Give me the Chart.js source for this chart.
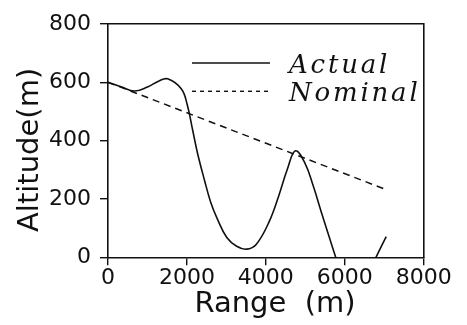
<!DOCTYPE html>
<html>
<head>
<meta charset="utf-8">
<title>Altitude vs Range</title>
<script src="https://cdn.jsdelivr.net/npm/chart.js@4.4.1/dist/chart.umd.min.js"></script>
<style>
  html, body { margin: 0; padding: 0; background: #fff; }
  #wrap { width: 467px; height: 325px; }
</style>
</head>
<body>
<div id="wrap"><canvas id="altitudeChart"></canvas></div>
<script>
// flown path vs. planned path, both in metres
const actualRange = [0, 330, 670, 1000, 1280, 1510, 1860, 2010, 2150, 2270, 2440, 2600, 2770, 3010, 3260, 3510, 3760, 4090, 4330, 4540, 4750, 4990, 5200, 5400, 5610, 5770, 6300, 6790, 7050];
const actualAltitude = [600, 585, 570, 584, 604, 612, 577, 522, 433, 356, 267, 190, 132, 68, 38, 28, 45, 124, 212, 300, 365, 323, 245, 157, 68, 0, null, 0, 71];
const nominalRange = [0, 7050];
const nominalAltitude = [600, 232];
const seriesLabels = ["Actual", "Nominal"];
const rangeTicks = [0, 2000, 4000, 6000, 8000];
const altitudeTicks = [0, 200, 400, 600, 800];

const ink = "#111";

function toPoints(xs, ys) {
  return xs.map((x, i) => ({ x: x, y: ys[i] }));
}

// legend drawn inside the plot box, upper right
const insideLegend = {
  id: "insideLegend",
  afterDatasetsDraw(chart) {
    const { ctx, chartArea } = chart;
    const x0 = chartArea.left + 84;
    ctx.save();
    chart.data.datasets.forEach((ds, i) => {
      const y = chartArea.top + 39 + i * 28.3;
      ctx.beginPath();
      ctx.setLineDash(i === 0 ? [] : [4, 4]);
      ctx.lineWidth = 1.4;
      ctx.strokeStyle = ds.borderColor;
      ctx.moveTo(x0, y);
      ctx.lineTo(x0 + 78, y);
      ctx.stroke();
      ctx.setLineDash([]);
      ctx.font = 'italic 26px "DejaVu Serif"';
      ctx.letterSpacing = "2.8px";
      ctx.fillStyle = ink;
      ctx.textBaseline = "alphabetic";
      ctx.fillText(ds.label, x0 + 97, y + 9.5);
    });
    ctx.restore();
  },
};

Chart.defaults.font.family = '"DejaVu Sans"';
Chart.defaults.color = ink;

const data = {
  datasets: [
    {
      label: seriesLabels[0],
      data: toPoints(actualRange, actualAltitude),
      borderColor: ink,
      borderWidth: 1.6,
      pointRadius: 0,
      tension: 0.4,
      spanGaps: false,
    },
    {
      label: seriesLabels[1],
      data: toPoints(nominalRange, nominalAltitude),
      borderColor: ink,
      borderWidth: 1.5,
      borderDash: [7, 5],
      pointRadius: 0,
    },
  ],
};

const config = {
  type: "line",
  data: data,
  options: {
    responsive: true,
    maintainAspectRatio: false,
    animation: false,
    layout: { padding: { top: 16, right: 35.3, left: 0, bottom: 0 } },
    plugins: { legend: { display: false }, tooltip: { enabled: false } },
    scales: {
      x: {
        type: "linear",
        min: 0,
        max: 8000,
        afterBuildTicks: (scale) => {
          scale.ticks = rangeTicks.map((v) => ({ value: v }));
        },
        afterFit: (scale) => {
          scale.height = 67.7;
        },
        ticks: { font: { size: 22 }, padding: 0, maxRotation: 0, color: ink, callback: (v) => String(v) },
        grid: { display: true, drawOnChartArea: false, tickLength: 8, color: ink, lineWidth: 1.4 },
        border: { color: ink, width: 1.6 },
        title: { display: true, text: "  Range  (m)", font: { size: 29 }, padding: { top: 0, bottom: 3.6 }, color: ink },
      },
      y: {
        min: 0,
        max: 800,
        afterBuildTicks: (scale) => {
          scale.ticks = altitudeTicks.map((v) => ({ value: v }));
        },
        afterFit: (scale) => {
          scale.width = 108;
        },
        ticks: { font: { size: 22 }, padding: 9, color: ink, callback: (v) => String(v) },
        grid: { display: true, drawOnChartArea: false, tickLength: 8, color: ink, lineWidth: 1.4 },
        border: { color: ink, width: 1.6 },
        title: { display: true, text: "Altitude(m)  ", font: { size: 29 }, padding: { top: 12.6, bottom: 0 }, color: ink },
      },
      // plain top and right edges to close the box
      x2: {
        type: "linear",
        position: "top",
        display: true,
        ticks: { display: false },
        grid: { display: false },
        border: { color: ink, width: 1.6 },
      },
      y2: {
        position: "right",
        display: true,
        ticks: { display: false },
        grid: { display: false },
        border: { color: ink, width: 1.6 },
      },
    },
  },
  plugins: [insideLegend],
};

const altitudeChart = new Chart(document.querySelector("#altitudeChart"), config);
</script>
</body>
</html>
